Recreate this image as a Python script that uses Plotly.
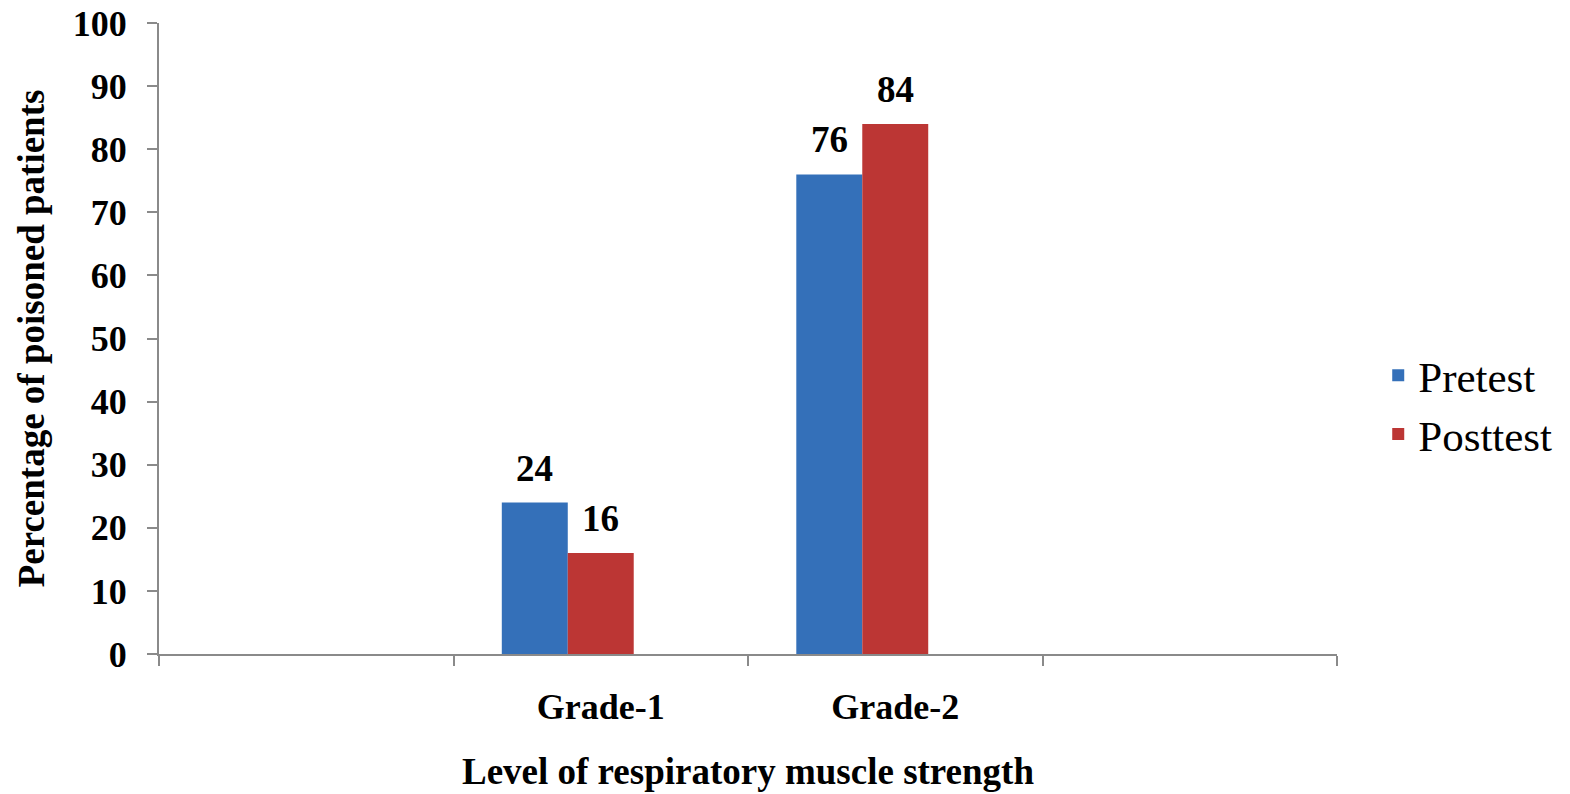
import plotly.graph_objects as go

# Category slots on the x axis (outer slots are intentionally blank)
categories = [" ", "Grade-1", "Grade-2", "  "]
pretest = [None, 24, 76, None]
posttest = [None, 16, 84, None]
series_names = ["Pretest", "Posttest"]

y_ticks = list(range(0, 101, 10))

SERIF = "Liberation Serif, Times New Roman, serif"
AXIS_GRAY = "#8a8a8a"
BLUE = "#3470b9"
RED = "#bc3634"

BAR_W = 0.224
OFFSETS = [-0.336, -0.112]

fig = go.Figure()
for name, vals, color, off in zip(series_names, [pretest, posttest], [BLUE, RED], OFFSETS):
    fig.add_trace(go.Bar(
        x=categories, y=vals, name=name,
        marker=dict(color=color, line=dict(width=0)),
        width=BAR_W, offset=off,
        legendgroup=name,
    ))

# Value labels above each bar
annotations = []
for vals, off in zip([pretest, posttest], OFFSETS):
    for i, v in enumerate(vals):
        if v is None:
            continue
        annotations.append(dict(
            x=i + off + BAR_W / 2, y=v, xref="x", yref="y",
            text=str(v), showarrow=False, yanchor="bottom", yshift=12,
            font=dict(family=SERIF, size=37, color="black", weight="bold"),
        ))

fig.update_layout(
    width=1570, height=794,
    margin=dict(l=159, r=233, t=23, b=140, autoexpand=False),
    paper_bgcolor="white", plot_bgcolor="white",
    barmode="group",
    showlegend=True,
    legend=dict(
        x=1.035, y=0.395, xanchor="left", yanchor="middle",
        font=dict(family=SERIF, size=43, color="black"),
        tracegroupgap=19, traceorder="normal",
    ),
    annotations=annotations,
    xaxis=dict(
        type="category", categoryorder="array", categoryarray=categories,
        range=[-0.5, 3.5], automargin=False,
        showline=True, linecolor=AXIS_GRAY, linewidth=2,
        ticks="outside", tickson="boundaries", ticklen=10, tickcolor=AXIS_GRAY, tickwidth=1.5,
        tickfont=dict(family=SERIF, size=36, color="black", weight="bold"),
        ticklabelstandoff=20,
        showgrid=False, zeroline=False,
        title=dict(text="Level of respiratory muscle strength",
                   font=dict(family=SERIF, size=37, color="black", weight="bold"),
                   standoff=32),
    ),
    yaxis=dict(
        range=[0, 100], tickvals=y_ticks, automargin=False,
        showline=True, linecolor=AXIS_GRAY, linewidth=2,
        ticks="outside", ticklen=10, tickcolor=AXIS_GRAY, tickwidth=1.5,
        tickfont=dict(family=SERIF, size=36, color="black", weight="bold"),
        ticklabelstandoff=13,
        showgrid=False, zeroline=False,
        title=dict(text="Percentage of poisoned patients",
                   font=dict(family=SERIF, size=37, color="black", weight="bold"),
                   standoff=17),
    ),
)

fig.write_html("out.html")
